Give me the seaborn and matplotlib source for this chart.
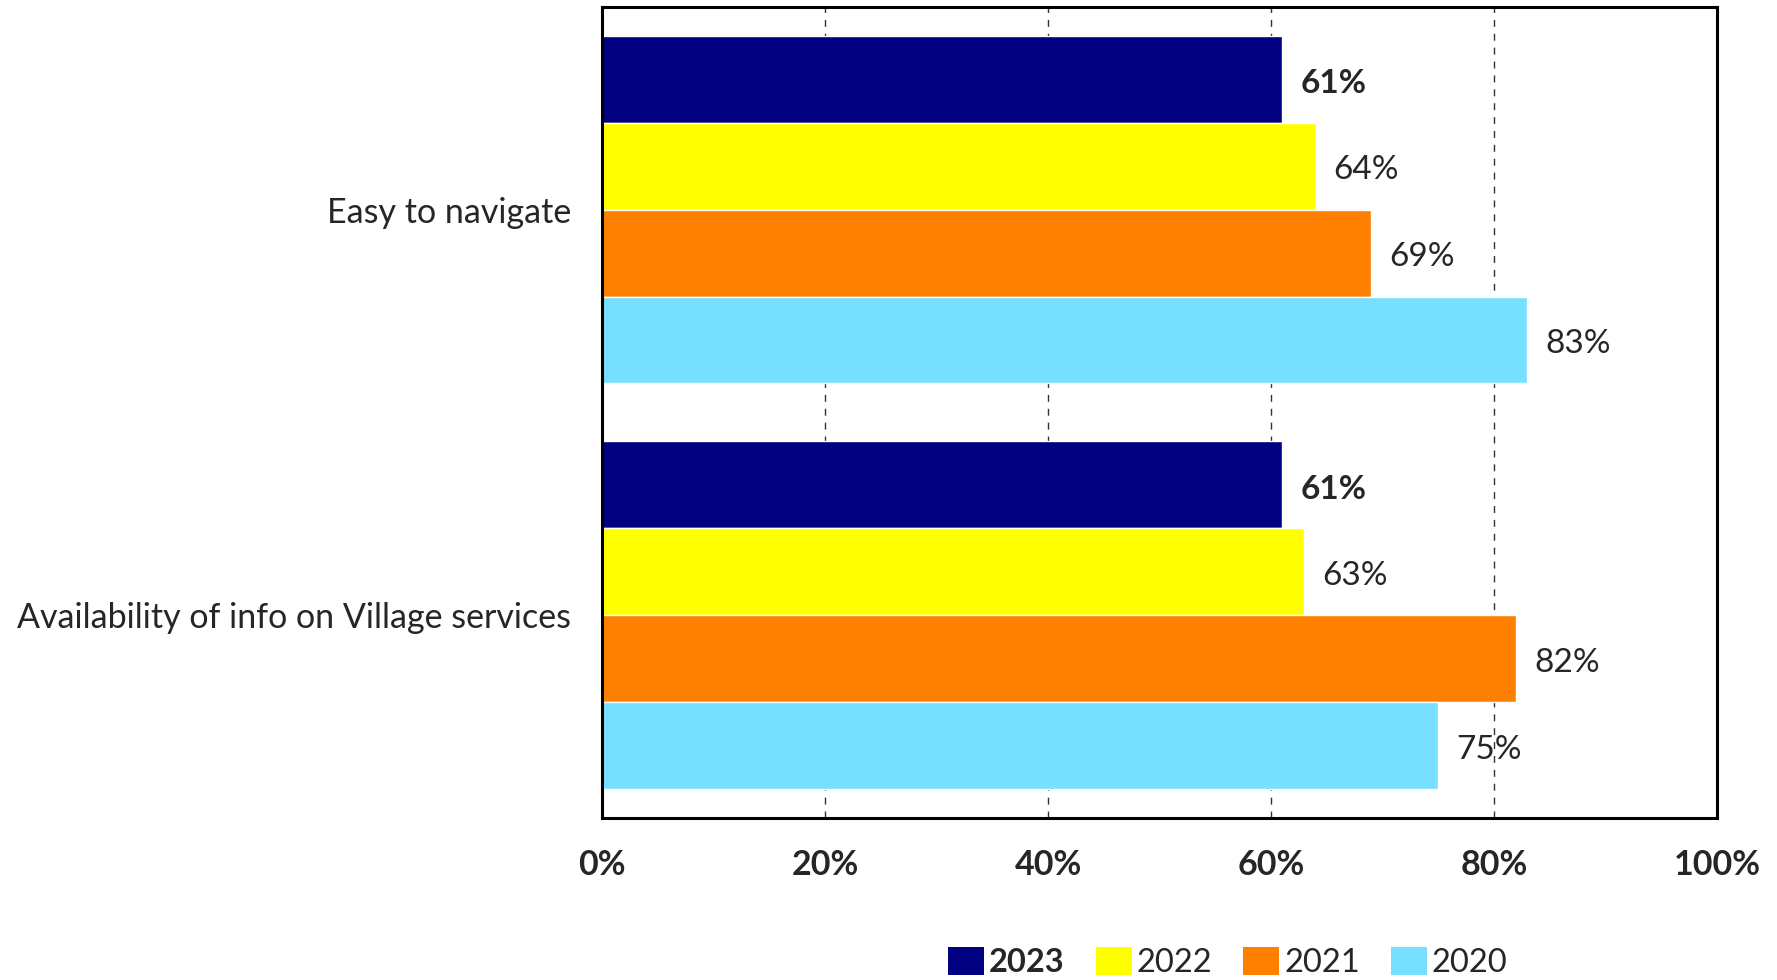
import matplotlib
matplotlib.use("Agg")
import matplotlib.pyplot as plt
import seaborn as sns
import pandas as pd
from matplotlib.patches import Patch

categories = ["Easy to navigate", "Availability of info on Village services"]
years = ["2023", "2022", "2021", "2020"]
values_2023 = [61, 61]
values_2022 = [64, 63]
values_2021 = [69, 82]
values_2020 = [83, 75]
colors = ["#000080", "#FFFF00", "#FF8000", "#77DFFF"]
tick_labels = ["0%", "20%", "40%", "60%", "80%", "100%"]

series = {"2023": values_2023, "2022": values_2022, "2021": values_2021, "2020": values_2020}
rows = []
for yr in years:
    for cat, v in zip(categories, series[yr]):
        rows.append({"category": cat, "year": yr, "value": v})
df = pd.DataFrame(rows)

sns.set_theme(style="white")
plt.rcParams["font.family"] = ["Lato", "DejaVu Sans"]

fig = plt.figure(figsize=(17.77, 9.8), dpi=100)
ax = fig.add_axes([0.3388, 0.1653, 0.9662 - 0.3388, 0.9929 - 0.1653])

sns.barplot(data=df, y="category", x="value", hue="year", hue_order=years,
            order=categories, palette=colors, orient="h", width=0.857,
            saturation=1, dodge=True, ax=ax, legend=False, errorbar=None)

ax.set_xlim(0, 100)
ax.set_ylim(1.5, -0.5)
ax.set_xticks([0, 20, 40, 60, 80, 100])
ax.set_xticklabels(tick_labels, fontsize=24.5, fontweight="bold")
ax.tick_params(axis="x", length=0, pad=22)
ax.tick_params(axis="y", length=0, pad=22, labelsize=24.5)
ax.set_xlabel("")
ax.set_ylabel("")
for gx in [20, 40, 60, 80]:
    ax.axvline(gx, color="#333333", linestyle=(0, (5, 5)), linewidth=1.0, zorder=0)
ax.set_axisbelow(True)
for sp in ax.spines.values():
    sp.set_visible(True)
    sp.set_color("black")
    sp.set_linewidth(2.2)

# value labels next to each bar
for container, yr in zip(ax.containers, years):
    labels = [f"{int(v)}%" for v in container.datavalues]
    anns = ax.bar_label(container, labels=labels, padding=13, fontsize=24,
                        fontweight="bold" if yr == "2023" else "normal")
    for a in anns:
        a.xyann = (13, -3)

handles = [Patch(facecolor=c, edgecolor="none") for c in colors]
leg = fig.legend(handles, years, loc="center", bbox_to_anchor=(0.691, 0.018), ncol=4,
                 frameon=False, fontsize=23.5, handlelength=1.1, handleheight=0.95,
                 handletextpad=0.15, columnspacing=0.95)
leg.get_texts()[0].set_fontweight("bold")

fig.savefig("out.png", dpi=100)
